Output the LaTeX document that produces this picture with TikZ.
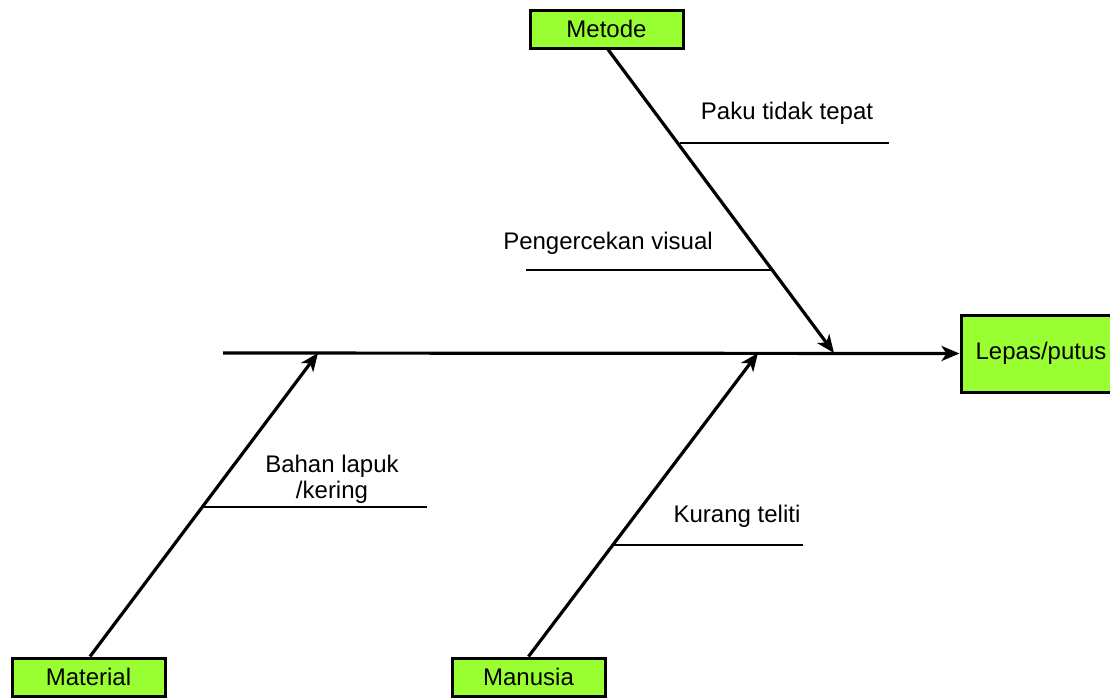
\documentclass[tikz,border=0pt]{standalone}
\usepackage{fontspec}
\setmainfont{Liberation Sans}
\usetikzlibrary{arrows.meta}
\definecolor{boxgreen}{HTML}{99FF33}
\tikzset{
  catbox/.style={draw=black, line width=3pt, fill=boxgreen, minimum width=153pt, minimum height=38pt, inner sep=0pt, font=\fontsize{24}{27}\selectfont},
  bone/.style={line width=3.2pt, -{Stealth[length=18pt,width=15pt,inset=5pt]}},
  twig/.style={line width=1.6pt},
  lbl/.style={font=\fontsize{24}{26}\selectfont, align=center, inner sep=0pt}
}
\begin{document}
\begin{tikzpicture}[x=1pt,y=-1pt]
\useasboundingbox (0,0) rectangle (1110,697);
% boxes
\node[catbox] (metode) at (606.5,29) {Metode};
\node[catbox, minimum width=160pt, minimum height=77pt] (lepas) at (1041,353.5) {Lepas/putus};
\node[catbox] (material) at (88.5,677) {Material};
\node[catbox] (manusia) at (528.5,677) {Manusia};
% spine
\coordinate (spinestart) at (223,353);
\coordinate (tipmetode) at (834,353);
\coordinate (tipmaterial) at (318,353);
\coordinate (tipmanusia) at (758,353);
\draw[bone] (spinestart) -- (lepas.west);
% bones
\draw[bone] (metode.south -| 608,0) -- (tipmetode);
\draw[bone] (material.north -| 90,0) -- (tipmaterial);
\draw[bone] (manusia.north) -- (tipmanusia);
% twigs
\coordinate (t1a) at (680,143); \coordinate (t1b) at (889,143);
\coordinate (t2a) at (526,270); \coordinate (t2b) at (774,270);
\coordinate (t3a) at (202,507); \coordinate (t3b) at (427,507);
\coordinate (t4a) at (613,545); \coordinate (t4b) at (803,545);
\draw[twig] (t1a) -- (t1b);
\draw[twig] (t2a) -- (t2b);
\draw[twig] (t3a) -- (t3b);
\draw[twig] (t4a) -- (t4b);
% labels
\node[lbl] (l1) at (787,113) {Paku tidak tepat};
\node[lbl] (l2) at (608,243) {Pengercekan visual};
\node[lbl] (l3) at (332,479) {Bahan lapuk\\/kering};
\node[lbl] (l4) at (737,516) {Kurang teliti};
\end{tikzpicture}
\end{document}
